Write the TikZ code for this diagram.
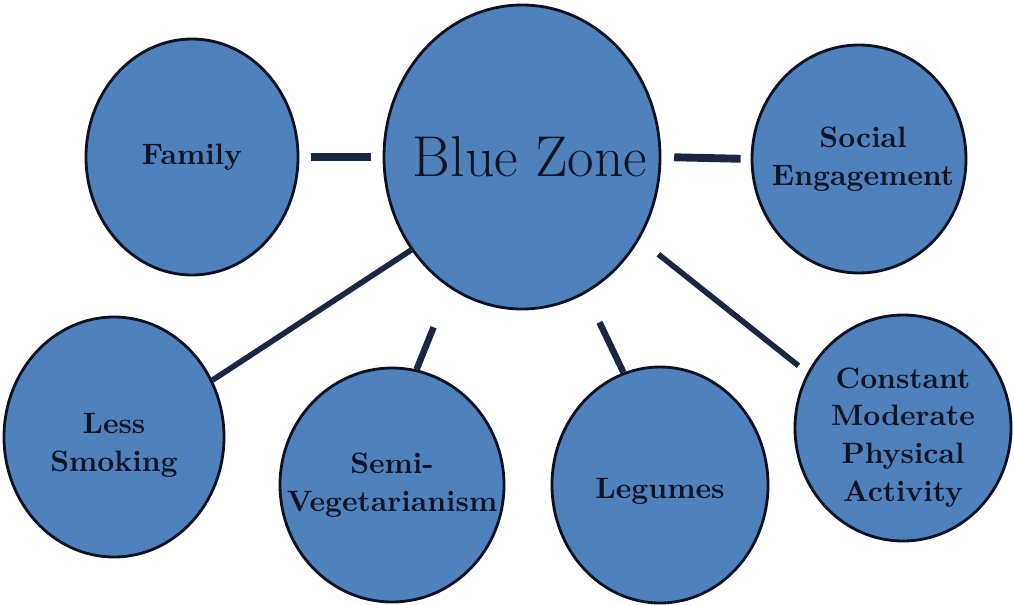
\documentclass[tikz,border=0pt]{standalone}
\usepackage{tikz}
\usetikzlibrary{shapes.geometric}

\definecolor{zonefill}{RGB}{79,129,189}
\definecolor{rimline}{RGB}{12,18,34}
\definecolor{linkline}{RGB}{26,38,66}
\definecolor{inkdark}{RGB}{14,20,36}

\tikzset{
    bubble/.style={ellipse, draw=rimline, fill=zonefill, line width=1pt,
        inner sep=0pt},
    tag/.style={align=center, text=inkdark,
        font=\bfseries\fontsize{10.5}{13.5}\selectfont},
    link/.style={draw=linkline, line width=2pt},
    barlink/.style={draw=linkline, line width=2.8pt}
}

\begin{document}
\begin{tikzpicture}[x=0.125mm, y=-0.125mm]

    \useasboundingbox (0,0) rectangle (1014,604);

    % ============================================================
    % CENTRAL BUBBLE
    % ============================================================
    \node[bubble, minimum width=34.5mm, minimum height=38mm,
        label={[text=inkdark, font=\fontsize{20.5}{24}\selectfont,
        xshift=1mm]center:Blue Zone}] (bz) at (522,157) {};

    % ============================================================
    % UPPER ROW
    % ============================================================
    \node[bubble, minimum width=26.5mm, minimum height=29.5mm,
        label={[tag]center:Family}] (fam) at (192,157) {};
    \node[bubble, minimum width=26.75mm, minimum height=28.5mm,
        label={[tag, xshift=0.5mm]center:Social\\Engagement}] (soc) at (859,159) {};

    % ============================================================
    % LOWER ROW
    % ============================================================
    \node[bubble, minimum width=27.5mm, minimum height=30mm,
        label={[tag, yshift=-1mm]center:Less\\Smoking}] (smk) at (114,437) {};
    \node[bubble, minimum width=28mm, minimum height=29.25mm,
        label={[tag]center:Semi-\\Vegetarianism}] (veg) at (392,485) {};
    \node[bubble, minimum width=27mm, minimum height=29.5mm,
        label={[tag, yshift=-0.8mm]center:Legumes}] (leg) at (660,485) {};
    \node[bubble, minimum width=27mm, minimum height=28.25mm,
        label={[tag, yshift=-1.2mm]center:Constant\\Moderate\\Physical\\Activity}] (act) at (903,428) {};

    % ============================================================
    % CONNECTORS
    % ============================================================
    \draw[barlink, shorten <=1.5mm, shorten >=1.4mm] (fam.east) -- (bz.west);
    \draw[barlink, shorten <=1.6mm, shorten >=1.25mm] (bz.east) -- (soc.west);
    \draw[link] (bz.220) -- (smk.30);
    \draw[link, line width=2.3pt, shorten <=5.3mm] (bz.241) -- (veg.78);
    \draw[link, line width=2.3pt, shorten <=4mm] (bz.295) -- (leg.108);
    \draw[link, shorten <=3mm, shorten >=1.4mm] (bz.325) -- (act.150);

\end{tikzpicture}
\end{document}
